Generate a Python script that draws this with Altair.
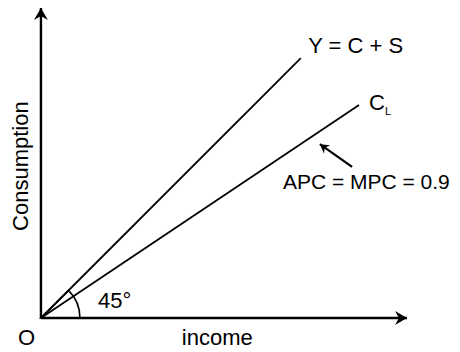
import altair as alt
import pandas as pd

# ---- chart values (data units: income on x, consumption on y) ----
axis_names = ["income", "Consumption"]
axis_x_end = [10.0, 0.0]
axis_y_end = [0.0, 8.47]

line_names = ["Y = C + S", "C_L"]
line_x_end = [7.10, 8.69]
line_y_end = [7.10, 5.82]

label_texts = ["Y = C + S", "C", "O", "income", "45°"]
label_x = [7.30, 8.96, -0.63, 3.85, 1.557]
label_y = [7.24, 5.68, -0.74, -0.74, 0.273]

note_text = ["APC = MPC = 0.9"]
note_x = [6.61]
note_y = [3.52]

sub_text = ["L"]
sub_x = [9.40]
sub_y = [5.55]

ytitle_text = ["Consumption"]
ytitle_x = [-0.355]
ytitle_y = [4.15]

pointer_from = [8.50, 4.13]
pointer_to = [7.62, 4.75]

angle_deg = 45

# ---- tables ----
axes_df = pd.DataFrame({"name": axis_names, "x": [0.0, 0.0], "y": [0.0, 0.0],
                        "x2": axis_x_end, "y2": axis_y_end})
lines_df = pd.DataFrame({"name": line_names, "x": [0.0, 0.0], "y": [0.0, 0.0],
                         "x2": line_x_end, "y2": line_y_end})
axis_heads_df = pd.DataFrame({"x": [axis_x_end[0], axis_x_end[1]],
                              "y": [axis_y_end[0], axis_y_end[1]],
                              "angle": [90, 0]})
ptr_df = pd.DataFrame({"x": [pointer_from[0]], "y": [pointer_from[1]],
                       "x2": [pointer_to[0]], "y2": [pointer_to[1]]})
ptr_head_df = pd.DataFrame({"x": [pointer_to[0]], "y": [pointer_to[1]], "angle": [306]})
labels_df = pd.DataFrame({"text": label_texts, "x": label_x, "y": label_y})
note_df = pd.DataFrame({"text": note_text, "x": note_x, "y": note_y})
sub_df = pd.DataFrame({"text": sub_text, "x": sub_x, "y": sub_y})
ytitle_df = pd.DataFrame({"text": ytitle_text, "x": ytitle_x, "y": ytitle_y})
origin_df = pd.DataFrame({"x": [0.0], "y": [0.0]})

xs = alt.Scale(domain=[-0.90, 11.23], nice=False, zero=False)
ys = alt.Scale(domain=[-0.929, 8.47], nice=False, zero=False)


def X():
    return alt.X("x:Q", scale=xs, axis=None)


def Y():
    return alt.Y("y:Q", scale=ys, axis=None)


FONT = "Liberation Sans"
HEAD = "M-1,1.7L0,0L1,1.7L0,1.15Z"

axes = alt.Chart(axes_df).mark_rule(color="black", strokeWidth=2.4).encode(
    x=X(), y=Y(), x2="x2:Q", y2="y2:Q")
lines = alt.Chart(lines_df).mark_rule(color="black", strokeWidth=1.8).encode(
    x=X(), y=Y(), x2="x2:Q", y2="y2:Q")
arc = alt.Chart(origin_df).mark_arc(
    theta=3.14159265 / 180 * angle_deg, theta2=3.14159265 / 2, radius=39,
    fill="transparent", stroke="black", strokeWidth=1.6).encode(x=X(), y=Y())
axis_heads = alt.Chart(axis_heads_df).mark_point(
    shape=HEAD, filled=True, color="black", size=196, opacity=1).encode(
    x=X(), y=Y(), angle=alt.Angle("angle:Q", scale=None))
ptr = alt.Chart(ptr_df).mark_rule(color="black", strokeWidth=2.2).encode(
    x=X(), y=Y(), x2="x2:Q", y2="y2:Q")
ptr_head = alt.Chart(ptr_head_df).mark_point(
    shape=HEAD, filled=True, color="black", size=110, opacity=1).encode(
    x=X(), y=Y(), angle=alt.Angle("angle:Q", scale=None))
labels = alt.Chart(labels_df).mark_text(
    align="left", baseline="alphabetic", font=FONT, fontSize=22, color="black").encode(
    x=X(), y=Y(), text="text:N")
note = alt.Chart(note_df).mark_text(
    align="left", baseline="alphabetic", font=FONT, fontSize=21, color="black").encode(
    x=X(), y=Y(), text="text:N")
sub = alt.Chart(sub_df).mark_text(
    align="left", baseline="alphabetic", font=FONT, fontSize=11, color="black").encode(
    x=X(), y=Y(), text="text:N")
ytitle = alt.Chart(ytitle_df).mark_text(
    align="center", baseline="alphabetic", font=FONT, fontSize=22, angle=270,
    color="black").encode(x=X(), y=Y(), text="text:N")

chart = alt.layer(axes, lines, arc, axis_heads, ptr, ptr_head, labels, note, sub, ytitle).properties(
    width=444, height=344, padding=0, autosize=alt.AutoSizeParams(type="none")
).configure_view(strokeWidth=0)

chart.save("out.html", embed_options={"renderer": "svg", "actions": False})
